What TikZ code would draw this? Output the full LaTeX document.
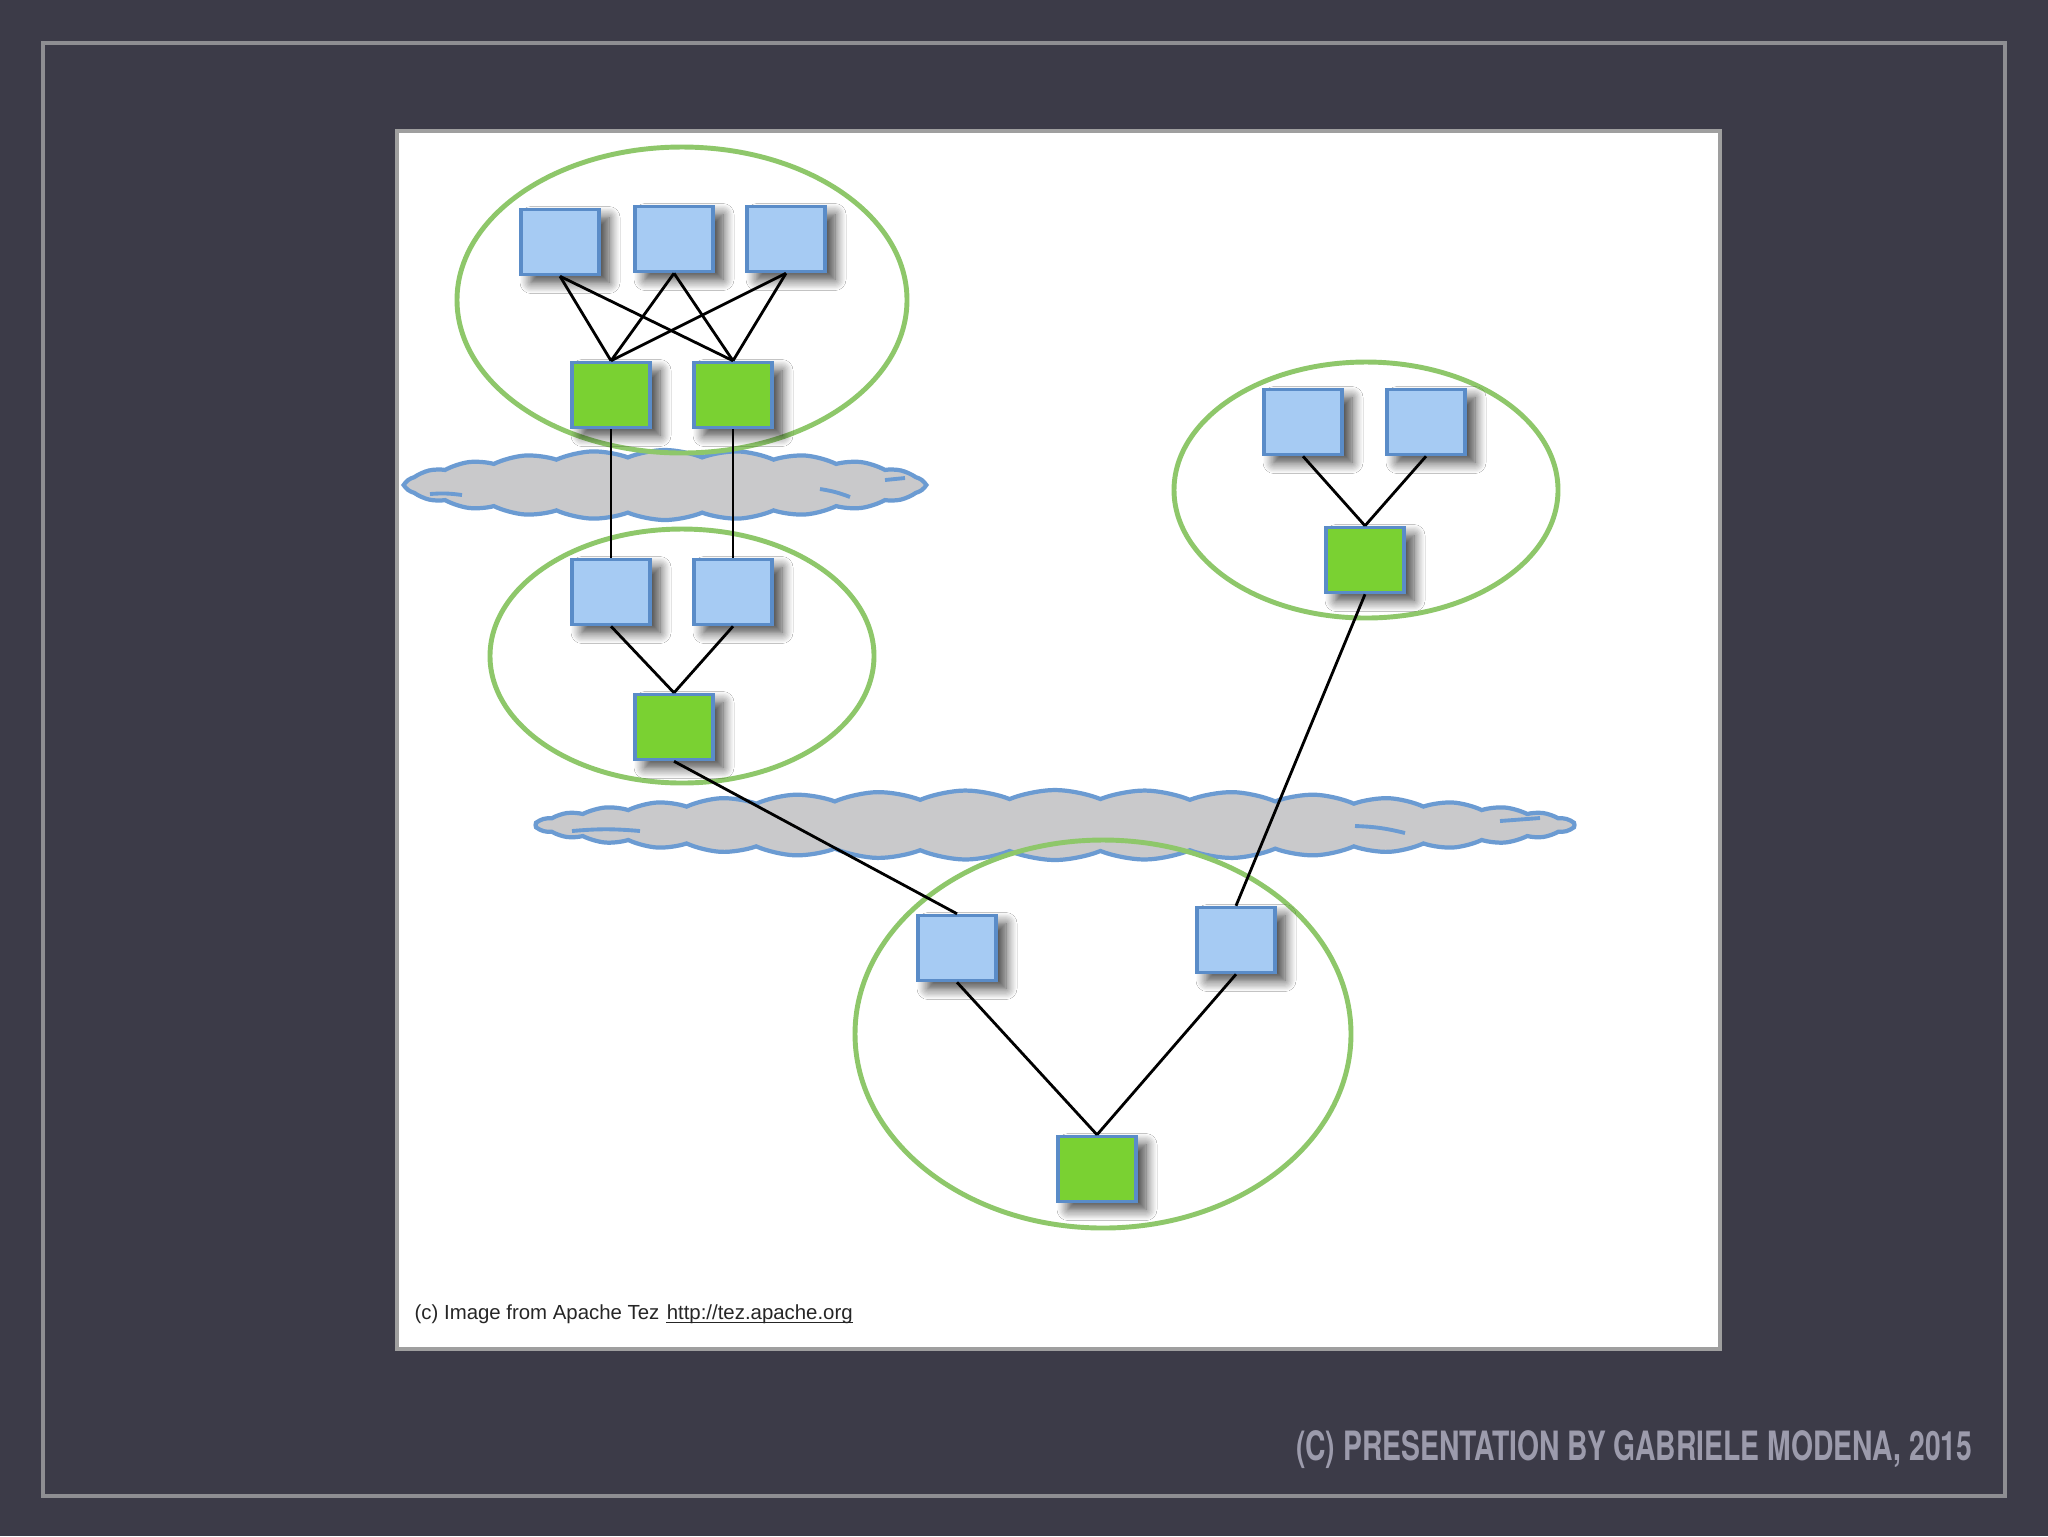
\documentclass[tikz,border=0pt]{standalone}
\usepackage{fontspec}
\setmainfont{Liberation Sans}
\newfontfamily\footfont{TeX Gyre Heros}
\usetikzlibrary{shapes.geometric,shapes.symbols,shadows.blur}
\definecolor{slate}{HTML}{3C3B48}
\definecolor{framegray}{HTML}{8E8E92}
\definecolor{boxblue}{HTML}{A6CBF3}
\definecolor{boxedge}{HTML}{5A8CC8}
\definecolor{taskgreen}{HTML}{7AD132}
\definecolor{ringgreen}{HTML}{8EC76A}
\definecolor{cloudgray}{HTML}{C9C9CB}
\definecolor{cloudedge}{HTML}{6B9BD2}
\definecolor{foottext}{HTML}{9C9BAC}

\begin{document}
\begin{tikzpicture}[x=0.1mm,y=-0.1mm]
  \tikzset{vertex/.style = {draw=boxedge, line width=1pt, fill=boxblue, minimum width=7.8mm, minimum height=6.5mm, inner sep=0pt,
      blur shadow={shadow xshift=1mm, shadow yshift=-0.8mm, shadow blur radius=1.1mm, shadow blur steps=10, shadow opacity=75}},
    task/.style = {vertex, fill=taskgreen},
    stage/.style = {ellipse, draw=ringgreen, line width=1.4pt, inner sep=0pt},
    shuffle/.style = {cloud, cloud puff arc=45, cloud ignores aspect, draw=cloudedge, fill=cloudgray, line width=1.2pt, minimum height=7mm},
    flick/.style = {cloudedge, line width=1.1pt},
    edge/.style = {black, line width=0.8pt}}
  \fill[slate] (0,0) rectangle (2048,1536);
  \useasboundingbox (0,0) rectangle (2048,1536);
  \draw[framegray, line width=1pt] (43,43) rectangle (2005,1496);
  \draw[fill=white, draw=gray!75, line width=1pt] (397,131) rectangle (1720,1349);
  % shuffles
  \node[shuffle, minimum width=51.9mm, cloud puffs=22] (sh1) at (665,485) {};
  \node[shuffle, minimum width=103.9mm, cloud puffs=36] (sh2) at (1055,825) {};
  \draw[flick] (430,494) to[bend left=6] (462,495);
  \draw[flick] (820,489) to[bend left=6] (850,497);
  \draw[flick] (885,480) -- (905,478);
  \draw[flick] (572,831) to[bend left=5] (640,831);
  \draw[flick] (1355,826) to[bend left=6] (1405,833);
  \draw[flick] (1500,821) -- (1540,818);
  % stages
  \node[stage, minimum width=45mm, minimum height=30.6mm] (st1) at (682,300) {};
  \node[stage, minimum width=38.4mm, minimum height=25.4mm] (st2) at (682,656) {};
  \node[stage, minimum width=38.4mm, minimum height=25.6mm] (st3) at (1366,490) {};
  \node[stage, minimum width=49.6mm, minimum height=38.8mm] (st4) at (1103,1034) {};
  % tasks
  \node[vertex] (t1) at (560,242) {};
  \node[vertex] (t2) at (674,239) {};
  \node[vertex] (t3) at (786,239) {};
  \node[task] (g1) at (611,395) {};
  \node[task] (g2) at (733,395) {};
  \node[vertex] (m1) at (611,592) {};
  \node[vertex] (m2) at (733,592) {};
  \node[task] (mg) at (674,727) {};
  \node[vertex] (r1) at (1303,422) {};
  \node[vertex] (r2) at (1426,422) {};
  \node[task] (rg) at (1365,560) {};
  \node[vertex] (b1) at (957,948) {};
  \node[vertex] (b2) at (1236,940) {};
  \node[task] (bg) at (1097,1169) {};
  \foreach \a in {t1,t2,t3}
    \foreach \b in {g1,g2}
      \draw[edge] (\a.south) -- (\b.north);
  \foreach \a/\b in {g1/m1, g2/m2, m1/mg, m2/mg, mg/b1, r1/rg, r2/rg, rg/b2, b1/bg, b2/bg}
    \draw[edge] (\a.south) -- (\b.north);
  % credits
  \node[anchor=west, inner sep=0pt, font=\fontsize{5.8}{6}\selectfont, text=black!85] (credit) at (414,1314)
    {(c) Image from Apache Tez};
  \node[anchor=base west, inner sep=0pt, font=\fontsize{5.8}{6}\selectfont, text=black!85] (link) at ([xshift=0.6mm]credit.base east)
    {http://tez.apache.org};
  \draw[black!85, line width=0.35pt] ([yshift=-0.35mm]link.base west) -- ([yshift=-0.35mm]link.base east);
  \node[anchor=east, inner sep=0pt, text=foottext, font=\footfont\bfseries\fontsize{11.5}{12}\selectfont] (footer) at (1973,1450)
    {\scalebox{0.70}[1]{(C) PRESENTATION BY GABRIELE MODENA, 2015}};
\end{tikzpicture}
\end{document}
